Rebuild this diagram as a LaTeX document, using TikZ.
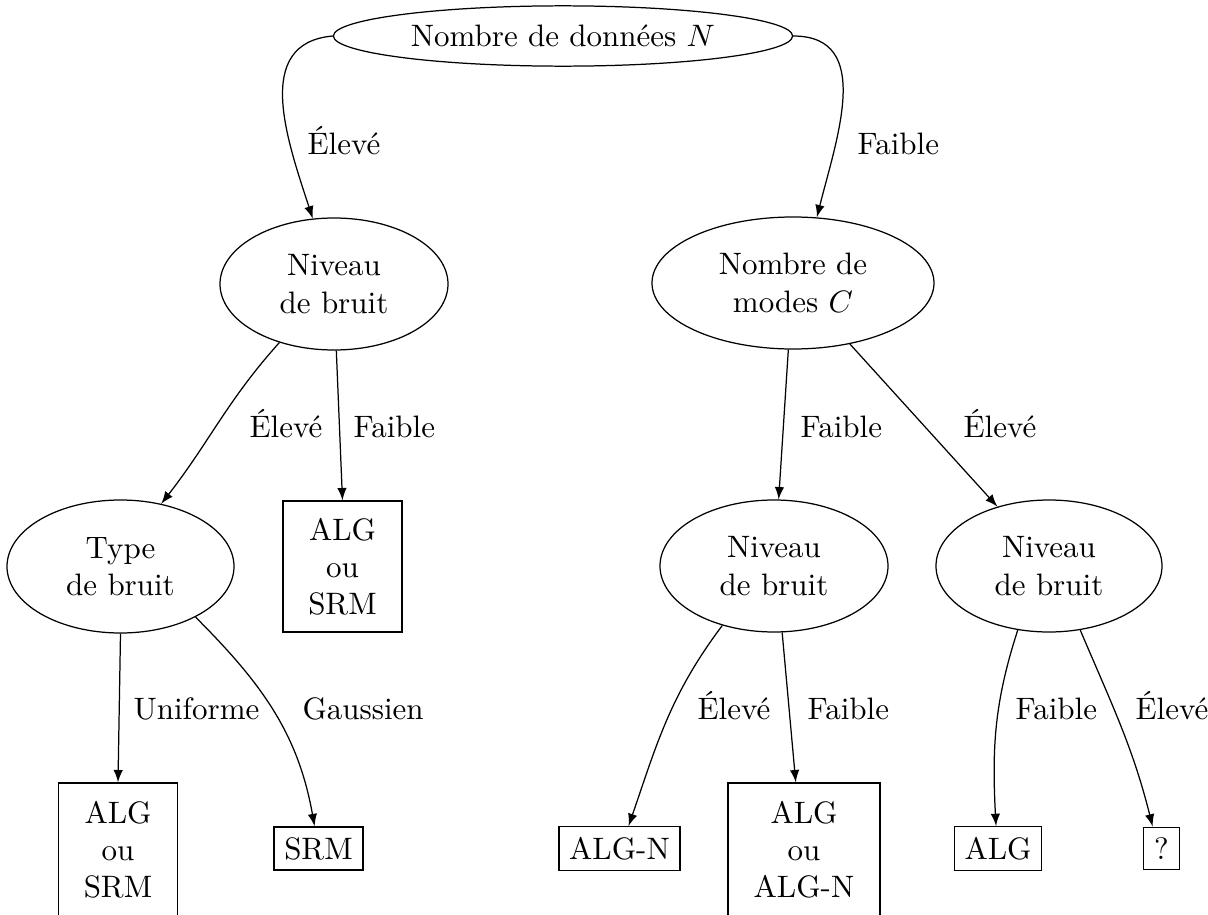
\documentclass[tikz,border=0pt]{standalone}
\usepackage{fontspec}
\usetikzlibrary{shapes.geometric,arrows,calc}
\def\pxu{0.3226pt}
\begin{document}
\begin{tikzpicture}[x=0.3226pt,y=0.3226pt,
  ell/.style={draw, ellipse, align=center},
  nbell/.style={ell, minimum width=228*\pxu, minimum height=132*\pxu},
  box/.style={draw, rectangle, align=center},
  tallbox/.style={box, minimum width=119*\pxu, minimum height=133*\pxu},
  lbl/.style={anchor=base west, inner sep=0pt},
  arr/.style={-latex}]
\useasboundingbox (0,0) rectangle (1208,914);
% nodes
\node[ell] (top) at (563,878) {Nombre de données $N$};
\node[nbell] (nb1) at (334,630) {Niveau\\de bruit};
\node[ell, minimum width=282*\pxu, minimum height=132*\pxu] (nm) at (793,631) {Nombre de\\modes $C$};
\node[nbell, minimum width=227*\pxu, minimum height=133*\pxu] (tb) at (120.5,347.5) {Type\\de bruit};
\node[box, minimum width=119*\pxu, minimum height=131*\pxu] (b1) at (342.5,347.5) {ALG\\ou\\SRM};
\node[nbell] (nb2) at (774,348) {Niveau\\de bruit};
\node[nbell, minimum width=226*\pxu] (nb3) at (1049,348) {Niveau\\de bruit};
\node[tallbox] (b2) at (118,64.5) {ALG\\ou\\SRM};
\node[box] (b3) at (318.5,65.5) {SRM};
\node[box] (b4) at (619.5,65.5) {ALG-N};
\node[tallbox, minimum width=152*\pxu] (b5) at (804,64.5) {ALG\\ou\\ALG-N};
\node[box] (b6) at (998,65.5) {ALG};
\node[box] (b7) at (1161.5,65.5) {?};
% connectors
\draw[arr] (top.west) to[out=185,in=108,looseness=1.13] (nb1.108);
\draw[arr] (top.east) to[out=0,in=76,looseness=1.13] (nm.70);
\draw[arr] (nb1.227) to[out=228,in=52] (tb.57);
\draw[arr] (nb1.-88) -- (b1.north);
\draw[arr] (nm.-94) -- (nb2.86);
\draw[arr] (nm.-47) -- (nb3.131);
\draw[arr] (tb.south) -- (b2.north);
\draw[arr] (tb.-34) to[out=-45,in=100] (b3.100);
\draw[arr] (nb2.229) to[out=233,in=71] (b4.68);
\draw[arr] (nb2.-83) -- (b5.97);
\draw[arr] (nb3.244) to[out=252,in=93] (b6.95);
\draw[arr] (nb3.-64) to[out=-67,in=104] (b7.112);
% labels
\node[lbl] (l1) at (307,760) {Élevé};
\node[lbl] (l2) at (857,760) {Faible};
\node[lbl] (l3) at (249,477) {Élevé};
\node[lbl] (l4) at (353,477) {Faible};
\node[lbl] (l5) at (800,477) {Faible};
\node[lbl] (l6) at (963,477) {Élevé};
\node[lbl] (l7) at (697,195) {Élevé};
\node[lbl] (l8) at (807,195) {Faible};
\node[lbl] (l9) at (1015,195) {Faible};
\node[lbl] (l10) at (1135,195) {Élevé};
\node[lbl] (l11) at (133,195) {Uniforme};
\node[lbl] (l12) at (302,195) {Gaussien};
\end{tikzpicture}
\end{document}
